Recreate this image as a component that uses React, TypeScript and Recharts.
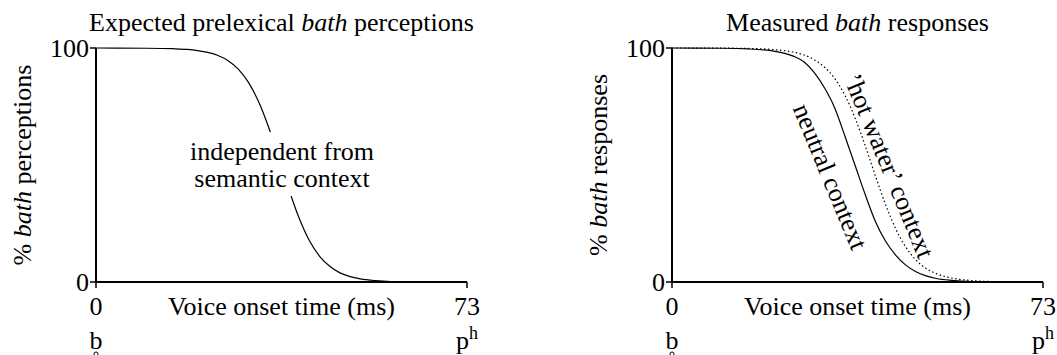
import React from 'react';
import { LineChart, Line, XAxis, YAxis, ReferenceDot } from 'recharts';

// Voice onset time steps (ms) along the b–pʰ continuum
const vot = [0, 10, 15, 18, 20, 22, 24, 26, 28, 30, 32, 34, 36, 38, 40, 42, 44, 46, 48, 50, 52, 55, 58, 62, 73];

// % bath, expected prelexical perceptions
const prelexical = [100, 99.9, 99.7, 99.4, 98.9, 98.1, 96.8, 94.6, 91.0, 85.3, 77.0, 65.9, 52.7, 39.2, 27.1, 17.6, 11.0, 6.7, 3.9, 2.3, 1.35, 0.6, 0.2, 0.05, 0];

// % bath, measured responses
const neutral = [100, 99.9, 99.6, 99.2, 98.7, 97.8, 96.4, 94.0, 89.5, 83.0, 74.5, 62.5, 50.0, 37.5, 26.0, 17.5, 11.5, 7.2, 4.4, 2.6, 1.5, 0.7, 0.3, 0.1, 0];
const hotWater = [100, 99.95, 99.8, 99.6, 99.3, 98.9, 98.2, 97.0, 95.0, 91.8, 87.0, 79.9, 70.2, 58.4, 45.5, 33.2, 22.8, 14.9, 9.4, 5.8, 3.6, 1.7, 0.8, 0.25, 0];

const xTicks = [0, 73];
const yTicks = [0, 100];
const endpointPhones = ['b', 'p'];
const endpointMarks = ['', 'h'];

const FONT = "'Liberation Serif', 'DejaVu Serif', 'Noto Serif', Times, serif";
const FS = 26;
const CHART_W = 481;
const CHART_H = 355;

const leftData = vot.map((v, i) => ({ vot: v, prelexical: prelexical[i] }));
const rightData = vot.map((v, i) => ({ vot: v, neutral: neutral[i], hotWater: hotWater[i] }));

const txt = { fontSize: FS, fill: '#000', fontFamily: FONT, style: { fontFamily: FONT } };

const margin = { top: 48, right: 14, left: 0, bottom: 0 };

const XTick = ({ x, y, payload }: any) => {
  const i = xTicks.indexOf(payload.value);
  return (
    <g>
      <text x={x} y={y + 25} textAnchor="middle" {...txt}>
        {payload.value}
      </text>
      <text x={x} y={y + 59} textAnchor="middle" {...txt}>
        {endpointPhones[i]}
        {endpointMarks[i] && (
          <tspan dy={-10} fontSize={18}>
            {endpointMarks[i]}
          </tspan>
        )}
      </text>
      {/* voiceless ring under the b */}
      {i === 0 && <circle cx={x} cy={y + 64} r={2} fill="none" stroke="#000" strokeWidth={1} />}
    </g>
  );
};

// x-axis title plus the panel heading above the plot box
const xLabel = (title: [string, string]) => (props: any) => {
  const vb = props.viewBox || {};
  const cx = vb.x + vb.width / 2;
  return (
    <g>
      <text x={cx} y={vb.y + 33} textAnchor="middle" {...txt}>
        Voice onset time (ms)
      </text>
      <text x={cx} y={margin.top - 17} textAnchor="middle" {...txt}>
        {title[0]}
        <tspan fontStyle="italic">bath</tspan>
        {title[1]}
      </text>
    </g>
  );
};

const yLabel = (post: string) => (props: any) => {
  const vb = props.viewBox || {};
  const cx = vb.x + 22;
  const cy = vb.y + vb.height / 2;
  return (
    <text x={cx} y={cy} textAnchor="middle" dominantBaseline="central" transform={`rotate(-90 ${cx} ${cy})`} {...txt}>
      {'% '}
      <tspan fontStyle="italic">bath</tspan>
      {post}
    </text>
  );
};

const YTick = ({ x, y, payload }: any) => (
  <text x={x} y={y} textAnchor="end" dominantBaseline="central" {...txt}>
    {payload.value}
  </text>
);

const axisLine = { stroke: '#000', strokeWidth: 2 };
const tickLine = { stroke: '#000', strokeWidth: 1.5 };

function axes(title: [string, string], yPost: string) {
  return [
    <XAxis
      key="x"
      dataKey="vot"
      type="number"
      domain={[0, 73]}
      ticks={xTicks}
      height={73}
      axisLine={axisLine}
      tickLine={tickLine}
      tickSize={6}
      tickMargin={2}
      tick={<XTick />}
      label={xLabel(title)}
    />,
    <XAxis
      key="xt"
      xAxisId="frame"
      orientation="top"
      type="number"
      domain={[0, 73]}
      height={0}
      tick={false}
      tickLine={false}
      axisLine={axisLine}
    />,
    <YAxis
      key="y"
      type="number"
      domain={[0, 100]}
      ticks={yTicks}
      width={96}
      axisLine={axisLine}
      tickLine={tickLine}
      tickSize={6}
      tickMargin={1}
      tick={<YTick />}
      label={yLabel(yPost)}
    />,
    <YAxis
      key="yr"
      yAxisId="frame"
      orientation="right"
      type="number"
      domain={[0, 100]}
      width={0}
      tick={false}
      tickLine={false}
      axisLine={axisLine}
    />,
  ];
}

export default function App() {
  return (
    <div style={{ position: 'absolute', left: 0, top: 0, width: 1057, height: 355, background: '#fff', fontFamily: FONT }}>
      <div style={{ position: 'absolute', left: 0, top: 0 }}>
        <LineChart width={CHART_W} height={CHART_H} data={leftData} margin={margin} style={{ overflow: 'visible' }}>
          {axes(['Expected prelexical ', ' perceptions'], ' perceptions')}
          <Line type="monotone" dataKey="prelexical" stroke="#000" strokeWidth={1.2} dot={false} isAnimationActive={false} />
          <ReferenceDot
            x={36.6}
            y={50.4}
            r={0}
            zIndex={1000}
            shape={(p: any) => (
              <g>
                <rect x={p.cx - 96} y={p.cy - 32} width={192} height={64} fill="#fff" />
                <text x={p.cx} y={p.cy - 4} textAnchor="middle" {...txt}>independent from</text>
                <text x={p.cx} y={p.cy + 23} textAnchor="middle" {...txt}>semantic context</text>
              </g>
            )}
          />
        </LineChart>
      </div>
      <div style={{ position: 'absolute', left: 576, top: 0 }}>
        <LineChart width={CHART_W} height={CHART_H} data={rightData} margin={margin} style={{ overflow: 'visible' }}>
          {axes(['Measured ', ' responses'], ' responses')}
          <Line type="monotone" dataKey="neutral" stroke="#000" strokeWidth={1.2} dot={false} isAnimationActive={false} />
          <Line type="monotone" dataKey="hotWater" stroke="#000" strokeWidth={1.2} strokeDasharray="1.5 2.5" dot={false} isAnimationActive={false} />
          <ReferenceDot
            x={31.1}
            y={45}
            r={0}
            shape={(p: any) => (
              <text x={p.cx} y={p.cy} textAnchor="middle" dominantBaseline="central" transform={`rotate(67.5 ${p.cx} ${p.cy})`} {...txt}>
                neutral context
              </text>
            )}
          />
          <ReferenceDot
            x={42.7}
            y={49.6}
            r={0}
            shape={(p: any) => (
              <text x={p.cx} y={p.cy} textAnchor="middle" dominantBaseline="central" transform={`rotate(67.5 ${p.cx} ${p.cy})`} {...txt}>
                {'\u2019hot water\u2019 context'}
              </text>
            )}
          />
        </LineChart>
      </div>
    </div>
  );
}
